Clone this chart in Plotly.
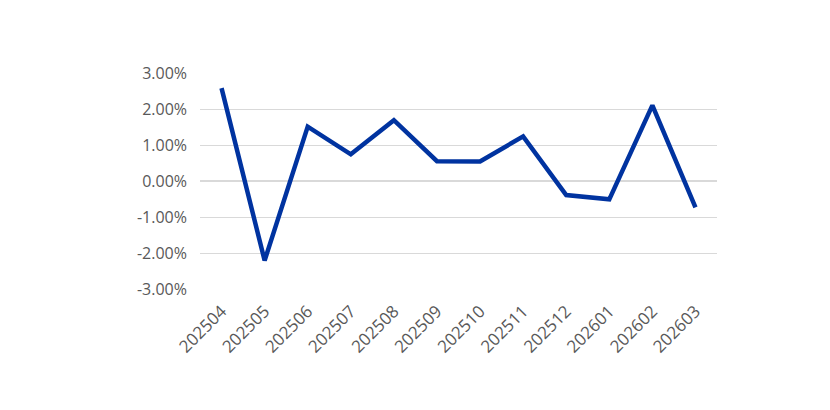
import plotly.graph_objects as go

# monthly change
months = ["202504", "202505", "202506", "202507", "202508", "202509",
          "202510", "202511", "202512", "202601", "202602", "202603"]
change = [0.0258, -0.0221, 0.0151, 0.0074, 0.0169, 0.0055,
          0.0054, 0.0124, -0.0039, -0.0051, 0.0210, -0.0073]

y_ticks = [-0.03, -0.02, -0.01, 0.0, 0.01, 0.02, 0.03]
# plain hyphen for negatives, like the original
y_labels = [f"{v * 100:.2f}%" for v in y_ticks]

fig = go.Figure()
fig.add_scatter(x=months, y=change, mode="lines",
                line=dict(color="#0033a0", width=4.5))

fig.update_layout(
    width=830, height=410,
    margin=dict(l=192, r=121, t=65, b=129),
    plot_bgcolor="white", paper_bgcolor="white",
    showlegend=False,
    font=dict(family="Open Sans, sans-serif", size=16, color="#595959"),
)
fig.update_xaxes(type="category", range=[-0.5, 11.5], tickangle=-45,
                 showgrid=False, showline=False, ticks="",
                 ticklabelstandoff=8, tickfont=dict(size=17))
fig.update_yaxes(range=[-0.03, 0.03], tickvals=y_ticks, ticktext=y_labels,
                 showgrid=True, gridcolor="#d9d9d9", gridwidth=1,
                 zeroline=True, zerolinecolor="#d9d9d9", zerolinewidth=1.5,
                 ticks="", ticklabelstandoff=12)

fig.write_html("out.html")
